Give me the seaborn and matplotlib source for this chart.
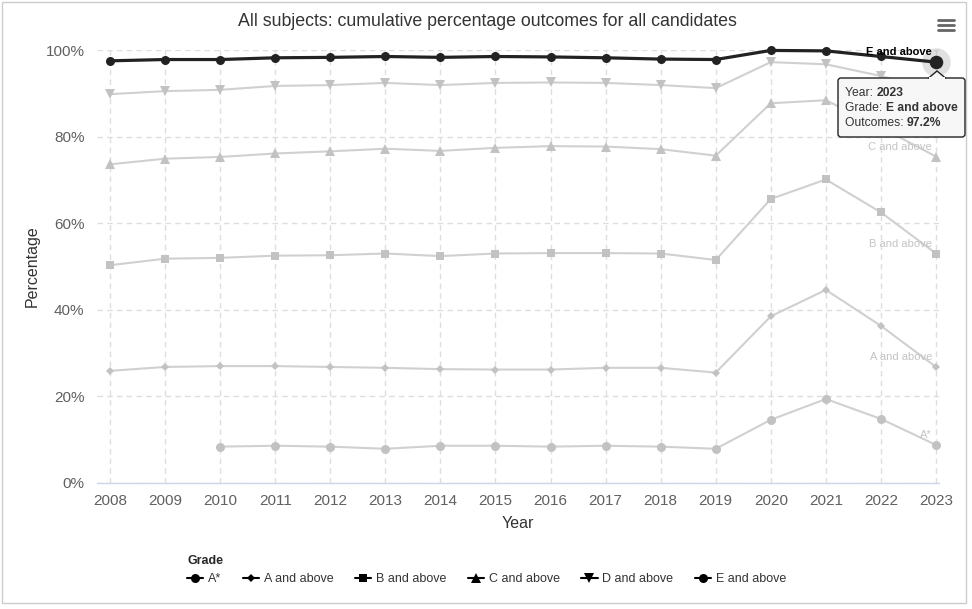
import numpy as np
import pandas as pd
import matplotlib.pyplot as plt
import seaborn as sns
from matplotlib.lines import Line2D
from matplotlib.patches import Rectangle, FancyBboxPatch, Polygon
from matplotlib.text import Annotation

# Data
years = list(range(2008, 2024))
grades = ["A*", "A and above", "B and above", "C and above", "D and above", "E and above"]
a_star = [np.nan, np.nan, 8.4, 8.6, 8.4, 7.9, 8.6, 8.6, 8.4, 8.6, 8.4, 7.9, 14.6, 19.4, 14.8, 8.8]
a_above = [25.9, 26.8, 27.0, 27.0, 26.8, 26.6, 26.3, 26.2, 26.2, 26.6, 26.6, 25.5, 38.5, 44.6, 36.3, 26.8]
b_above = [50.3, 51.8, 52.0, 52.5, 52.6, 53.0, 52.4, 53.0, 53.1, 53.1, 53.0, 51.5, 65.6, 70.1, 62.5, 53.0]
c_above = [73.6, 74.9, 75.3, 76.1, 76.6, 77.2, 76.7, 77.4, 77.8, 77.7, 77.1, 75.6, 87.7, 88.4, 82.1, 75.4]
d_above = [89.8, 90.5, 90.8, 91.7, 91.9, 92.4, 91.9, 92.4, 92.5, 92.4, 91.9, 91.2, 97.2, 96.7, 94.0, 90.6]
e_above = [97.5, 97.8, 97.8, 98.2, 98.3, 98.5, 98.3, 98.5, 98.4, 98.2, 97.9, 97.8, 99.9, 99.8, 98.5, 97.2]
series = [a_star, a_above, b_above, c_above, d_above, e_above]
y_ticks = [0, 20, 40, 60, 80, 100]

rows = []
for g, vals in zip(grades, series):
    for yr, v in zip(years, vals):
        rows.append({"Year": yr, "Grade": g, "Outcomes": v})
df = pd.DataFrame(rows)

# style
sns.set_theme(style="white")
plt.rcParams["font.family"] = ["Liberation Sans", "DejaVu Sans"]

markers = {"A*": ("o", 6.5), "A and above": ("D", 4.2), "B and above": ("s", 5.8),
           "C and above": ("^", 6.8), "D and above": ("v", 6.8), "E and above": ("o", 6.5)}
grey_line = "#d0d0d0"
grey_mark = "#c2c2c2"
dark = "#222222"

W, H = 972, 609
fig = plt.figure(figsize=(W / 100, H / 100), dpi=100)
ax = fig.add_axes([97 / W, 1 - 483 / H, (939 - 97) / W, (483 - 50) / H])


def px(x, y):
    return x / 100, (H - y) / 100


for g in grades:
    sub = df[df["Grade"] == g].dropna()
    m, ms = markers[g]
    hot = g == "E and above"
    sns.lineplot(data=sub, x="Year", y="Outcomes", ax=ax, errorbar=None,
                 color=dark if hot else grey_line, lw=2.3 if hot else 1.5,
                 marker=m, markersize=ms, markeredgewidth=0,
                 markerfacecolor=dark if hot else grey_mark, clip_on=False,
                 zorder=5 if hot else 3, legend=False)

# halo on the hovered point
ax.scatter([years[-1]], [e_above[-1]], s=420, color="#999999", alpha=0.3,
           linewidth=0, zorder=4, clip_on=False)
ax.scatter([years[-1]], [e_above[-1]], s=95, color=dark, linewidth=0, zorder=6, clip_on=False)

# series end labels
for g, vals in zip(grades, series):
    if g == "D and above":
        continue
    hot = g == "E and above"
    ax.annotate(g, xy=(years[-1], vals[-1]), xytext=(-4, 10), textcoords="offset pixels",
                ha="right", va="center", fontsize=8, color="black" if hot else "#c4c4c4",
                fontweight="bold" if hot else "normal", zorder=7)

ax.set_xlim(2008 - 13 / 55.07, 2023 + 3 / 55.07)
ax.set_ylim(0, 100)
ax.set_xticks(years)
ax.set_xticklabels([str(y) for y in years])
ax.set_yticks(y_ticks)
ax.set_yticklabels([f"{t}%" for t in y_ticks])
ax.tick_params(axis="both", length=0, labelsize=11, labelcolor="#606060")
ax.tick_params(axis="x", pad=8)
ax.tick_params(axis="y", pad=9)
ax.grid(True, color="#dedede", lw=1, linestyle=(0, (4, 3)))
ax.set_axisbelow(True)
for s in ["top", "right", "left"]:
    ax.spines[s].set_visible(False)
ax.spines["bottom"].set_color("#ccd6eb")
ax.spines["bottom"].set_linewidth(1)
ax.set_xlabel("Year", fontsize=11.5, color="#333333", labelpad=6)
ax.set_ylabel("Percentage", fontsize=11.5, color="#333333", labelpad=4)

fig.text(487 / W, 1 - 21 / H, "All subjects: cumulative percentage outcomes for all candidates",
         ha="center", va="center", fontsize=12.8, color="#333333")

# legend
handles = [Line2D([0], [0], color="black", lw=1.5, marker=markers[g][0],
                  markersize=markers[g][1], markeredgewidth=0) for g in grades]
leg = fig.legend(handles, grades, title="Grade", loc="upper left",
                 bbox_to_anchor=(187 / W, 1 - 555 / H), ncol=6, frameon=False,
                 fontsize=9, title_fontsize=9, handlelength=1.3, handletextpad=0.4,
                 columnspacing=1.7, borderpad=0, borderaxespad=0, alignment="left")
leg.get_title().set_fontweight("bold")
for t in leg.get_texts():
    t.set_color("#333333")

# tooltip
tr = fig.dpi_scale_trans
x0, y0 = px(838, 137)
box = FancyBboxPatch((x0, y0), 127 / 100, 59 / 100, boxstyle="round,pad=0,rounding_size=0.03",
                     transform=tr, facecolor="#f7f7f7", edgecolor=dark, lw=1, zorder=10)
fig.add_artist(box)
tri = Polygon([px(928, 78.5), px(937, 71), px(946, 78.5)], closed=False, transform=tr,
              facecolor="#f7f7f7", edgecolor=dark, lw=1, zorder=11)
fig.add_artist(tri)
cover = Rectangle(px(929, 80), 16 / 100, 2.5 / 100, transform=tr, facecolor="#f7f7f7",
                  edgecolor="none", zorder=12)
fig.add_artist(cover)
for yy, lab, val in [(92.5, "Year: ", "2023"), (107.5, "Grade: ", "E and above"),
                     (122.5, "Outcomes: ", "97.2%")]:
    tx, ty = px(845, yy)
    t1 = fig.text(tx, ty, lab, transform=tr, ha="left", va="center", fontsize=8.7,
                  color="#333333", zorder=13)
    a2 = Annotation(val, xy=(1, 0.5), xycoords=t1, ha="left", va="center",
                    fontsize=8.7, fontweight="bold", color="#333333", annotation_clip=False)
    a2.set_zorder(13)
    fig.add_artist(a2)

# menu icon and outer border
for yy in (20, 25, 30):
    fig.add_artist(Line2D([938 / W, 954 / W], [1 - yy / H, 1 - yy / H], color="#666666",
                          lw=2, solid_capstyle="round"))
fig.add_artist(Rectangle((2 / W, 1 - 603 / H), 964 / W, 601 / H, facecolor="none",
                         edgecolor="#cccccc", lw=1))

fig.savefig("out.png", dpi=100)
